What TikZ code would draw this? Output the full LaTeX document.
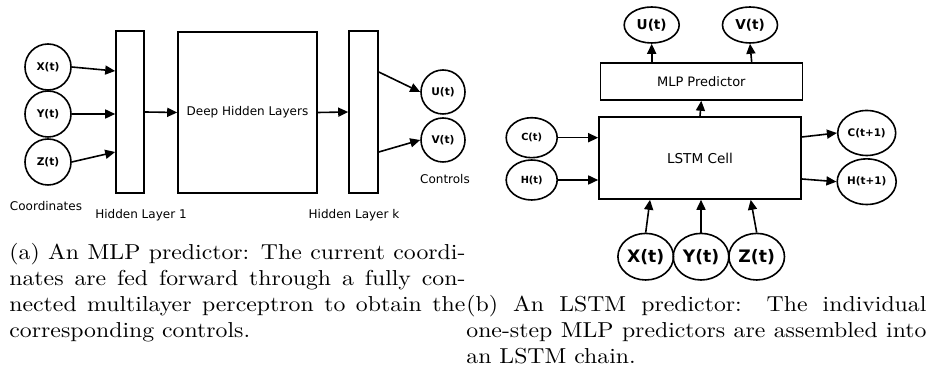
\documentclass[tikz,border=0pt]{standalone}
\usepackage{fontspec}
\usepackage{graphicx}
\usetikzlibrary{shapes.geometric,arrows.meta,calc}
\newfontfamily\dv{DejaVu Sans}

\begin{document}
\begin{tikzpicture}[x=0.5pt,y=-0.5pt,
  layer/.style={draw,line width=0.8pt,inner sep=0},
  unit/.style={draw,circle,line width=0.8pt,inner sep=0,minimum size=23pt,
               font=\dv\bfseries\fontsize{5.3}{6}\selectfont},
  oval/.style={draw,ellipse,line width=0.8pt,inner sep=0,font=\dv\bfseries},
  arr/.style={-{Triangle[length=5pt,width=4.5pt]},line width=0.8pt},
  lbl/.style={inner sep=0,font=\dv\fontsize{6}{7}\selectfont},
  capline/.style={anchor=base west,inner sep=0,font=\fontsize{10.8}{13}\selectfont}]
\useasboundingbox[fill=white] (0,0) rectangle (932,383);

% ---------- (a) feed-forward MLP ----------
\node[unit] (X) at (48,67) {X(t)};
\node[unit] (Y) at (48,114) {Y(t)};
\node[unit] (Z) at (48,162) {Z(t)};
\node[layer,minimum width=14pt,minimum height=81pt] (H1) at (130,112) {};
\node[layer,minimum width=69.5pt,minimum height=80.5pt,font=\dv\fontsize{6}{7}\selectfont] (D) at (247.5,112.5) {Deep Hidden Layers};
\node[layer,minimum width=14.5pt,minimum height=81pt] (Hk) at (363.5,112) {};
\node[unit,minimum size=22pt] (U) at (443,92) {U(t)};
\node[unit,minimum size=22pt] (V) at (443,140) {V(t)};

\draw[arr] (X.east) -- ($(H1.west)+(0,-41)$);
\draw[arr] (Y.east) -- (Y.east -| H1.west);
\draw[arr] (Z.east) -- ($(H1.west)+(0,40)$);
\draw[arr] (H1.east) -- (D.west);
\draw[arr] (D.east) -- (Hk.west);
\draw[arr] ($(Hk.east)+(0,-40)$) -- (U.west);
\draw[arr] ($(Hk.east)+(0,40)$) -- (V.west);

\node[lbl] (lc) at (46,206) {Coordinates};
\node[lbl] (l1) at (141,215) {Hidden Layer 1};
\node[lbl] (lk) at (354,215) {Hidden Layer k};
\node[lbl] (lo) at (445,179) {Controls};

% ---------- (b) LSTM predictor ----------
\node[layer,minimum width=101pt,minimum height=18.5pt,font=\dv\fontsize{6.5}{7.5}\selectfont] (M) at (701.3,81.5) {MLP Predictor};
\node[layer,minimum width=101pt,minimum height=41pt,font=\dv\fontsize{6.8}{8}\selectfont] (L) at (700,158) {LSTM Cell};
\node[oval,minimum width=27.5pt,minimum height=18pt,font=\dv\bfseries\fontsize{6.8}{8}\selectfont] (U2) at (651.7,25) {U(t)};
\node[oval,minimum width=27.5pt,minimum height=18pt,font=\dv\bfseries\fontsize{6.8}{8}\selectfont] (V2) at (750,25) {V(t)};
\node[oval,minimum width=25.5pt,minimum height=20pt,font=\dv\bfseries\fontsize{4.9}{6}\selectfont] (C) at (531.7,137.7) {C(t)};
\node[oval,minimum width=25.5pt,minimum height=20pt,font=\dv\bfseries\fontsize{4.9}{6}\selectfont] (Hh) at (531.7,180) {H(t)};
\node[oval,minimum width=29pt,minimum height=22.5pt,font=\dv\bfseries\fontsize{5.2}{6}\selectfont] (C1) at (866.7,133) {C(t+1)};
\node[oval,minimum width=29.5pt,minimum height=22.8pt,font=\dv\bfseries\fontsize{5.2}{6}\selectfont] (Hh1) at (866.7,181.7) {H(t+1)};
\node[oval,minimum width=27.8pt,minimum height=23.3pt,font=\dv\bfseries\fontsize{8.6}{10}\selectfont] (X2) at (645.7,256.7) {X(t)};
\node[oval,minimum width=27.8pt,minimum height=23.3pt,font=\dv\bfseries\fontsize{8.6}{10}\selectfont] (Y2) at (701,256.7) {Y(t)};
\node[oval,minimum width=27.8pt,minimum height=23.3pt,font=\dv\bfseries\fontsize{8.6}{10}\selectfont] (Z2) at (756.7,256.7) {Z(t)};

\draw[arr] (C.east) -- (C.east -| L.west);
\draw[arr] (Hh.east) -- (Hh.east -| L.west);
\draw[arr] ($(L.east)+(0,-21)$) -- (C1.west);
\draw[arr] ($(L.east)+(0,21)$) -- (Hh1.west);
\draw[arr] (L.north) -- (M.south);
\draw[arr] ($(M.north)+(-49.6,0)$) -- (U2.south);
\draw[arr] ($(M.north)+(50.4,0)$) -- (V2.south);
\draw[arr] (X2.north) -- ($(L.south)+(-50,0)$);
\draw[arr] (Y2.north) -- (Y2.north |- L.south);
\draw[arr] (Z2.north) -- ($(L.south)+(50.7,0)$);

% ---------- captions ----------
\node[capline] (ca1) at (9,260) {\scalebox{1.1}[1]{\makebox[207.3pt][s]{(a) An MLP predictor: The current coordi-}}};
\node[capline] (ca2) at (9,286) {\scalebox{1.1}[1]{\makebox[207.3pt][s]{nates are fed forward through a fully con-}}};
\node[capline] (ca3) at (9,312) {\scalebox{1.1}[1]{\makebox[207.3pt][s]{nected multilayer perceptron to obtain the}}};
\node[capline] (ca4) at (9,338) {\scalebox{1.1}[1]{corresponding controls.}};
\node[capline] (cb1) at (466,312) {\scalebox{1.1}[1]{\makebox[209.1pt][s]{(b) An LSTM predictor: The individual}}};
\node[capline] (cb2) at (466,338) {\scalebox{1.1}[1]{\makebox[209.1pt][s]{one-step MLP predictors are assembled into}}};
\node[capline] (cb3) at (466,364) {\scalebox{1.1}[1]{an LSTM chain.}};
\end{tikzpicture}
\end{document}
